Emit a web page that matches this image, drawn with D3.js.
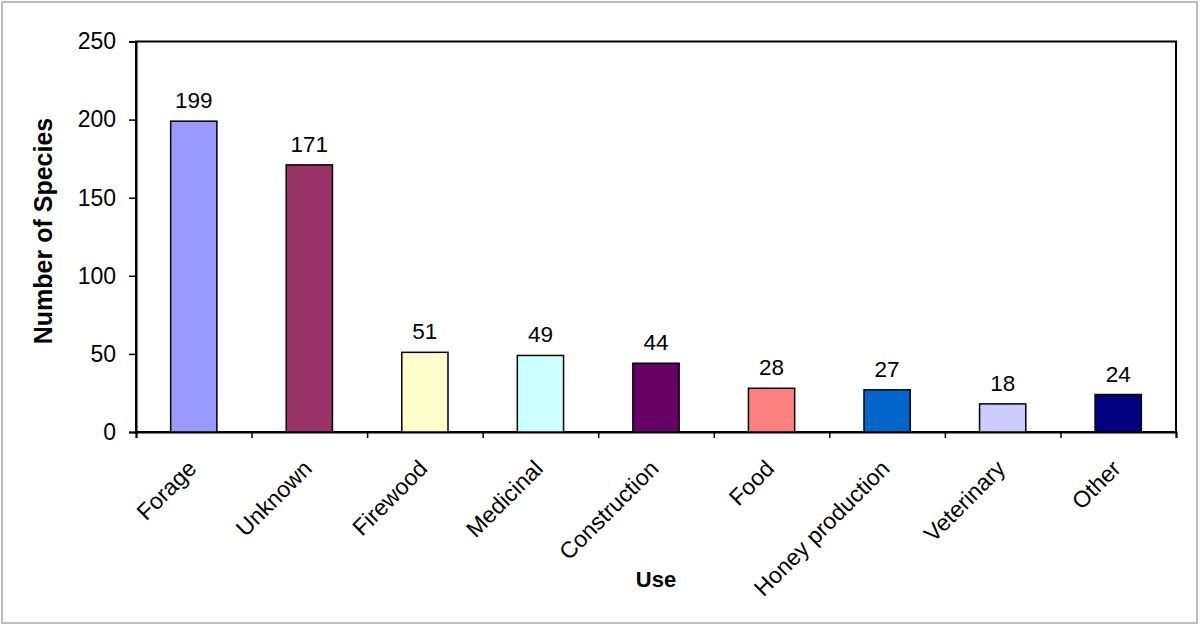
<!DOCTYPE html>
<html><head><meta charset="utf-8">
<script src="https://cdn.jsdelivr.net/npm/d3@7"></script>
<style>body{margin:0;background:#fff;} text{font-family:"Liberation Sans",Arial,sans-serif;}</style>
</head><body>
<svg id="c" width="1200" height="626"></svg>
<script>
const categories = ["Forage","Unknown","Firewood","Medicinal","Construction","Food","Honey production","Veterinary","Other"];
const values = [199,171,51,49,44,28,27,18,24];
const colors = ["#9999FF","#993366","#FFFFCC","#CCFFFF","#660066","#FF8080","#0066CC","#CCCCFF","#000080"];
const yTicks = [0,50,100,150,200,250];

const svg = d3.select("#c");
svg.append("rect").attr("x",2).attr("y",2).attr("width",1195).attr("height",621)
  .attr("fill","#fff").attr("stroke","#bdbdbd").attr("stroke-width",2);

const m = {l:136, r:1176, t:41.5, b:432};
const x = d3.scaleBand().domain(categories).range([m.l,m.r]).paddingInner(0.6).paddingOuter(0.3);
const xb = d3.scaleLinear().domain([0,categories.length]).range([m.l,m.r]);
const y = d3.scaleLinear().domain([0,250]).range([m.b,m.t]);

// plot frame
svg.append("rect").attr("x",m.l).attr("y",m.t).attr("width",m.r-m.l).attr("height",m.b-m.t)
  .attr("fill","none").attr("stroke","#000").attr("stroke-width",2);

// y axis
const ya = svg.append("g").attr("transform",`translate(${m.l},0)`)
  .call(d3.axisLeft(y).tickValues(yTicks).tickSize(7).tickPadding(13));
ya.select(".domain").attr("stroke","#000").attr("stroke-width",2);
ya.selectAll(".tick line").attr("stroke","#000").attr("stroke-width",1.5);
ya.selectAll(".tick text").attr("font-size",23).attr("fill","#000").attr("font-family","Liberation Sans, Arial, sans-serif");

// x ticks at band boundaries
const xa = svg.append("g").attr("transform",`translate(0,${m.b})`)
  .call(d3.axisBottom(xb).tickValues(d3.range(0,categories.length+1)).tickSize(6).tickFormat(""));
xa.select(".domain").attr("stroke","#000").attr("stroke-width",2);
xa.selectAll(".tick line").attr("stroke","#000").attr("stroke-width",1.5);

// category labels
svg.append("g").selectAll("text").data(categories).join("text")
  .attr("transform",d=>`translate(${x(d)+x.bandwidth()/2+4},${m.b+38}) rotate(-45)`)
  .attr("text-anchor","end")
  .attr("font-size",23).attr("fill","#000").text(d=>d);

// bars
svg.append("g").selectAll("rect").data(values).join("rect")
  .attr("x",(d,i)=>x(categories[i])).attr("width",x.bandwidth())
  .attr("y",d=>y(d)).attr("height",d=>y(0)-y(d))
  .attr("fill",(d,i)=>colors[i]).attr("stroke","#000").attr("stroke-width",1.5);

// value labels
svg.append("g").selectAll("text").data(values).join("text")
  .attr("x",(d,i)=>x(categories[i])+x.bandwidth()/2).attr("y",d=>y(d)-13)
  .attr("text-anchor","middle").attr("font-size",22.5).attr("fill","#000").text(d=>d);

// axis titles
svg.append("text").attr("transform",`translate(52,231) rotate(-90)`)
  .attr("text-anchor","middle").attr("font-size",25).attr("font-weight","bold").text("Number of Species");
svg.append("text").attr("x",656).attr("y",587)
  .attr("text-anchor","middle").attr("font-size",22).attr("font-weight","bold").text("Use");
</script>
</body></html>
